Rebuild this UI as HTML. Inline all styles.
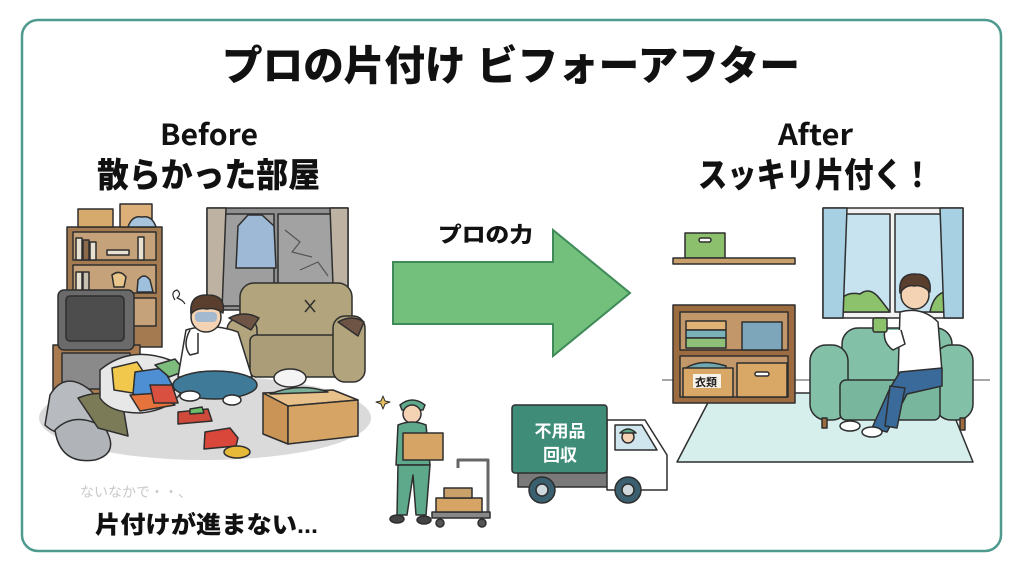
<!DOCTYPE html>
<html><head><meta charset="utf-8">
<style>
html,body{margin:0;padding:0;background:#fff;}
svg{display:block;}
.t{font-family:"Liberation Sans","Noto Sans CJK JP",sans-serif;font-weight:900;fill:#111;}
.n{font-family:"Noto Sans CJK JP","Liberation Sans",sans-serif;font-weight:700;fill:#111;}
</style></head>
<body>
<svg width="1024" height="572" viewBox="0 0 1024 572" xmlns="http://www.w3.org/2000/svg">
<rect x="0" y="0" width="1024" height="572" fill="#fff"/>
<rect x="22" y="20" width="979" height="531" rx="16" fill="#fff" stroke="#4f9a8f" stroke-width="2.5"/>

<!-- titles -->
<text class="t" x="222" y="80" font-size="41" textLength="578" lengthAdjust="spacingAndGlyphs">プロの片付け ビフォーアフター</text>
<text class="n" x="160" y="145" font-size="29" textLength="98" lengthAdjust="spacingAndGlyphs">Before</text>
<text class="t" x="97" y="187" font-size="34" textLength="223" lengthAdjust="spacingAndGlyphs">散らかった部屋</text>
<text class="n" x="778" y="145" font-size="29" textLength="75" lengthAdjust="spacingAndGlyphs">After</text>
<text class="t" x="698" y="187" font-size="34" textLength="234" lengthAdjust="spacingAndGlyphs">スッキリ片付く！</text>

<!-- arrow -->
<text class="t" x="438" y="242" font-size="21" textLength="95" lengthAdjust="spacingAndGlyphs">プロの力</text>
<path d="M393 262 L553 262 L553 230 L630 293 L553 356 L553 324 L393 324 Z" fill="#72c07c" stroke="#3f8a58" stroke-width="2"/>

<!-- ============ LEFT SCENE ============ -->
<g stroke="#2e2e2e" stroke-width="1.5" stroke-linejoin="round">
<ellipse cx="205" cy="418" rx="166" ry="42" fill="#dadada" stroke="none"/>
<!-- bookshelf -->
<rect x="67" y="227" width="95" height="120" fill="#a47a50"/>
<rect x="73" y="232" width="83" height="28" fill="#c6a27a"/>
<rect x="73" y="265" width="83" height="28" fill="#c6a27a"/>
<rect x="73" y="298" width="83" height="28" fill="#c6a27a"/>
<rect x="76" y="238" width="6" height="22" fill="#e8e0d0"/>
<rect x="83" y="240" width="6" height="20" fill="#8a6a4a"/>
<rect x="90" y="242" width="6" height="18" fill="#e8e0d0"/>
<rect x="107" y="250" width="22" height="5" fill="#e8e0d0"/>
<rect x="138" y="237" width="6" height="23" fill="#e8e0d0"/>
<rect x="76" y="272" width="6" height="21" fill="#e8e0d0"/>
<rect x="83" y="272" width="6" height="21" fill="#c8c0b0"/>
<path d="M112 275 q8 -6 14 2 l-2 10 l-10 0 z" fill="#e8c58a"/>
<path d="M138 280 q6 -8 12 0 l3 12 l-16 0 z" fill="#9fc0dc"/>
<!-- boxes on top -->
<rect x="78" y="209" width="35" height="18" fill="#d6a96c"/>
<rect x="120" y="204" width="32" height="23" fill="#dcb078"/>
<path d="M128 227 q4 -12 14 -10 q10 -2 14 10 z" fill="#a8c4dc"/>
<!-- window -->
<rect x="207" y="208" width="141" height="102" fill="#8f8f8f"/>
<rect x="212" y="214" width="62" height="92" fill="#9e9e9e"/>
<rect x="278" y="214" width="64" height="92" fill="#a2a2a2"/>
<path d="M285 230 l15 12 l-8 10 l20 5 M300 270 l18 -8 l10 14" fill="none" stroke="#555" stroke-width="1.2"/>
<path d="M207 208 L226 208 L222 310 L207 310 Z" fill="#beb3a2"/>
<path d="M330 208 L348 208 L348 310 L334 310 Z" fill="#beb3a2"/>
<path d="M248 215 L262 215 L274 226 L276 268 L236 268 L238 226 Z" fill="#9db9d5"/>
<!-- sofa -->
<rect x="240" y="283" width="112" height="62" rx="14" fill="#b2a57e"/>
<rect x="227" y="318" width="30" height="60" rx="12" fill="#b2a57e"/>
<rect x="250" y="335" width="100" height="42" rx="6" fill="#aa9d77"/>
<rect x="333" y="316" width="32" height="66" rx="12" fill="#b2a57e"/>
<path d="M229 318 q15 -8 30 0 l-8 12 z" fill="#6d5444"/>
<path d="M338 322 q14 -8 26 0 l-6 14 z" fill="#6d5444"/>
<path d="M305 300 l10 12 M315 300 l-10 12" fill="none"/>
<!-- tv stand & tv -->
<rect x="53" y="345" width="87" height="50" fill="#a97b4f"/>
<rect x="62" y="353" width="68" height="36" fill="#8a8a8a"/>
<rect x="58" y="290" width="76" height="60" rx="6" fill="#6a6a6a"/>
<rect x="66" y="296" width="58" height="45" rx="4" fill="#4d4d4d"/>
<!-- garbage bags -->
<path d="M50 395 q15 -25 40 -5 q20 20 0 40 q-30 10 -45 -5 z" fill="#b7bbbf"/>
<path d="M55 430 q20 -20 50 -2 q15 25 -10 32 q-35 5 -40 -30 z" fill="#b0b4b9"/>
<path d="M78 398 q30 -12 45 8 l5 30 l-30 -8 z" fill="#7c7b58"/>
<!-- clothes pile -->
<path d="M100 370 q30 -25 70 -10 l15 25 q-10 25 -45 28 q-30 0 -40 -15 z" fill="#e7e7e7"/>
<path d="M112 368 l25 -6 l12 18 l-10 14 l-25 -4 z" fill="#f2c84c"/>
<path d="M135 372 l28 -4 l12 22 l-22 10 l-20 -6 z" fill="#4d8fd2"/>
<path d="M130 395 l30 -2 l15 12 l-35 6 z" fill="#e6733b"/>
<path d="M150 385 l22 0 l6 18 l-24 0 z" fill="#d95040"/>
<path d="M155 365 l20 -6 l10 12 l-16 6 z" fill="#7cbc7c"/>
<!-- person -->
<path d="M186 330 q25 -8 52 2 l14 45 l-74 0 z" fill="#ffffff"/>
<ellipse cx="215" cy="385" rx="42" ry="14" fill="#3f7a98"/>
<ellipse cx="190" cy="396" rx="10" ry="5" fill="#fff"/>
<ellipse cx="232" cy="400" rx="9" ry="5" fill="#fff"/>
<circle cx="206" cy="317" r="15" fill="#f4d2b4"/>
<path d="M191 314 q-2 -20 17 -19 q18 0 15 18 q-8 -6 -16 -4 q-10 -2 -16 5 z" fill="#5a3f2e"/>
<rect x="195" y="312" width="22" height="10" rx="4" fill="#8fb3d6" stroke="none" opacity="0.8"/>
<path d="M190 330 q-8 15 0 25 l8 -2 l0 -20" fill="#fff"/>
<path d="M175 300 q-5 -8 2 -10 q5 4 0 8 q6 2 8 6" fill="none" stroke-width="1.2"/>
<!-- box -->
<path d="M263 393 l70 -3 l25 10 l-70 6 z" fill="#e7c08a"/>
<path d="M263 393 l25 13 l0 38 l-25 -10 z" fill="#c99455"/>
<path d="M288 406 l70 -6 l0 36 l-70 8 z" fill="#d6a464"/>
<path d="M270 394 q30 -12 58 -2 z" fill="#7bb09a"/>
<ellipse cx="290" cy="378" rx="16" ry="9" fill="#f4f4f4"/>
<!-- toys -->
<path d="M178 412 l30 -3 l4 12 l-34 3 z" fill="#cf4a3a"/>
<path d="M190 409 l12 -2 l2 6 l-14 1 z" fill="#6bbf6a"/>
<path d="M205 432 l25 -4 l8 10 l-2 8 l-32 3 z" fill="#d9473a"/>
<ellipse cx="237" cy="452" rx="13" ry="6" fill="#e7b938"/>
</g>

<!-- bottom left text -->
<text x="80" y="497" font-family="'Liberation Sans','Noto Sans CJK JP',sans-serif" font-size="14" fill="#c9c9c9">ないなかで・・、</text>
<text class="t" x="95" y="533" font-size="24" font-weight="700" textLength="223" lengthAdjust="spacingAndGlyphs">片付けが進まない...</text>

<!-- ============ MIDDLE: worker & truck ============ -->
<g stroke="#2e2e2e" stroke-width="1.5" stroke-linejoin="round">
<path d="M383 396 l2 5 l5 1 l-5 2 l-2 5 l-2 -5 l-5 -2 l5 -1 z" fill="#e6c060" stroke-width="1"/>
<!-- worker -->
<path d="M400 405 q12 -10 25 0 l-2 5 l-21 0 z" fill="#5ea88c"/>
<circle cx="412" cy="414" r="9" fill="#f4d2b4"/>
<path d="M398 425 q14 -6 28 0 l4 40 l-34 0 z" fill="#5ea88c"/>
<path d="M398 465 l32 0 l-4 50 l-10 0 l-3 -40 l-6 40 l-10 0 z" fill="#5ea88c"/>
<ellipse cx="397" cy="519" rx="7" ry="4" fill="#444"/>
<ellipse cx="424" cy="520" rx="7" ry="4" fill="#444"/>
<rect x="403" y="433" width="40" height="27" fill="#d6a464"/>
<!-- cart -->
<path d="M458 468 l0 -8 l30 0 l0 55" fill="none" stroke="#666" stroke-width="3"/>
<rect x="432" y="512" width="58" height="6" fill="#888"/>
<circle cx="440" cy="523" r="4" fill="#555"/>
<circle cx="482" cy="523" r="4" fill="#555"/>
<rect x="436" y="498" width="46" height="14" fill="#d6a464"/>
<rect x="444" y="488" width="28" height="10" fill="#c9a06a"/>
<!-- truck -->
<rect x="518" y="470" width="145" height="17" fill="#7a7a7a"/>
<path d="M607 420 L645 420 L667 455 L667 490 L607 490 Z" fill="#ffffff"/>
<path d="M615 425 L642 425 L657 450 L615 450 Z" fill="#cfe6ee"/>
<circle cx="628" cy="437" r="6" fill="#f4d2b4"/>
<path d="M620 433 q8 -8 16 0 z" fill="#5ea88c"/>
<rect x="512" y="405" width="95" height="68" rx="3" fill="#3f8d78"/>
<circle cx="542" cy="490" r="13" fill="#3a5f6e"/>
<circle cx="542" cy="490" r="6" fill="#cfd8dc"/>
<circle cx="628" cy="490" r="13" fill="#3a5f6e"/>
<circle cx="628" cy="490" r="6" fill="#cfd8dc"/>
</g>
<text x="560" y="437" text-anchor="middle" font-family="'Liberation Sans','Noto Sans CJK JP',sans-serif" font-weight="700" font-size="17" fill="#fff">不用品</text>
<text x="560" y="461" text-anchor="middle" font-family="'Liberation Sans','Noto Sans CJK JP',sans-serif" font-weight="700" font-size="17" fill="#fff">回収</text>

<!-- ============ RIGHT SCENE ============ -->
<g stroke="#2e2e2e" stroke-width="1.5" stroke-linejoin="round">
<line x1="662" y1="380" x2="990" y2="380" stroke="#8a8a8a"/>
<path d="M713 393 L945 393 L973 462 L677 462 Z" fill="#d6eeec"/>
<!-- shelf -->
<rect x="685" y="233" width="40" height="25" fill="#8dc06c"/>
<rect x="699" y="238" width="12" height="4" rx="2" fill="#fff"/>
<rect x="673" y="258" width="122" height="6" fill="#c9a06c"/>
<!-- window -->
<rect x="823" y="208" width="140" height="110" fill="#f2f2f2"/>
<rect x="830" y="214" width="60" height="98" fill="#c6e3ef"/>
<rect x="895" y="214" width="62" height="98" fill="#c6e3ef"/>
<path d="M835 312 q5 -22 25 -18 q10 -8 20 5 l10 13 z" fill="#8cc26c"/>
<path d="M930 312 q5 -25 27 -20 l0 20 z" fill="#8cc26c"/>
<path d="M823 208 L847 208 L843 318 L823 318 Z" fill="#a8d0e3"/>
<path d="M940 208 L963 208 L963 318 L944 318 Z" fill="#a8d0e3"/>
<!-- cabinet -->
<rect x="673" y="305" width="122" height="98" fill="#9c6b40"/>
<rect x="680" y="312" width="108" height="38" fill="#c2986a"/>
<rect x="680" y="356" width="108" height="41" fill="#c2986a"/>
<rect x="686" y="321" width="40" height="9" fill="#e2b274"/>
<rect x="686" y="330" width="40" height="8" fill="#7ab0b8"/>
<rect x="686" y="338" width="40" height="10" fill="#8fc07a"/>
<rect x="742" y="322" width="40" height="28" fill="#7ea6ba"/>
<path d="M686 368 q15 -10 40 -2 l0 6 l-40 0 z" fill="#6fa8b0"/>
<rect x="683" y="368" width="50" height="29" fill="#d9a766"/>
<rect x="737" y="363" width="50" height="34" fill="#d9a766"/>
<rect x="755" y="372" width="14" height="4" rx="2" fill="#fff"/>
<rect x="693" y="374" width="28" height="14" fill="#f7f2e8" stroke="none"/>
<!-- sofa -->
<rect x="842" y="328" width="110" height="55" rx="16" fill="#82c0a8"/>
<rect x="810" y="345" width="38" height="75" rx="16" fill="#82c0a8"/>
<rect x="935" y="345" width="38" height="75" rx="16" fill="#82c0a8"/>
<rect x="840" y="380" width="100" height="40" rx="6" fill="#78b69e"/>
<rect x="822" y="418" width="5" height="10" fill="#9c6b40"/>
<rect x="960" y="418" width="5" height="12" fill="#9c6b40"/>
<!-- person -->
<path d="M900 312 q22 -6 38 10 l4 50 l-44 6 z" fill="#ffffff"/>
<path d="M885 330 q-3 12 8 20 l12 -6 l-4 -14" fill="#fff"/>
<path d="M900 372 l42 -4 l0 18 l-35 8 l-20 38 l-15 -4 l18 -40 z" fill="#3a6a9a"/>
<path d="M905 388 l-8 40 l-12 -2 l5 -40 z" fill="#3a6a9a"/>
<ellipse cx="850" cy="426" rx="10" ry="5" fill="#fff"/>
<ellipse cx="872" cy="432" rx="10" ry="5" fill="#fff"/>
<circle cx="915" cy="295" r="14" fill="#f4d2b4"/>
<path d="M900 293 q-2 -20 16 -19 q16 0 14 18 q-8 -8 -16 -6 q-8 -2 -14 7 z" fill="#5a3f2e"/>
<rect x="873" y="318" width="14" height="14" rx="2" fill="#8cc26c"/>
</g>
<text x="695" y="386" font-family="'Liberation Sans','Noto Sans CJK JP',sans-serif" font-weight="700" font-size="11" fill="#222">衣類</text>
</svg>
</body></html>
